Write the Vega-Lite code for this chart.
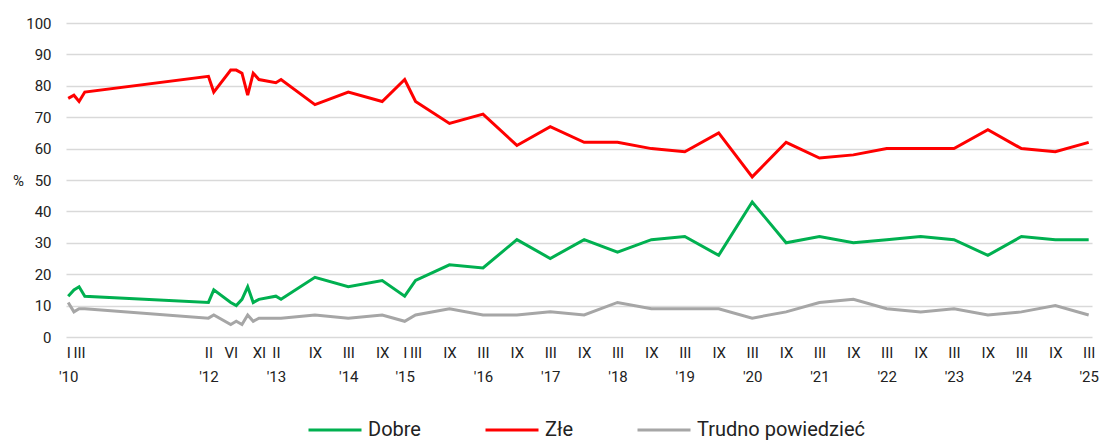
{
  "$schema": "https://vega.github.io/schema/vega-lite/v6.json",
  "width": 1026,
  "height": 314,
  "autosize": {"type": "none"},
  "padding": {"left": 66, "top": 23, "right": 7, "bottom": 103},
  "config": {
    "view": {"stroke": null},
    "font": "Roboto",
    "axis": {"labelFont": "Roboto", "labelColor": "#222222", "titleColor": "#222222"},
    "legend": {"padding": 0}
  },
  "data": {
    "values": [
      {"data": "2010-01-01", "seria": "Złe", "proc": 76}, {"data": "2010-01-01", "seria": "Dobre", "proc": 13}, {"data": "2010-01-01", "seria": "Trudno powiedzieć", "proc": 11},
      {"data": "2010-02-01", "seria": "Złe", "proc": 77}, {"data": "2010-02-01", "seria": "Dobre", "proc": 15}, {"data": "2010-02-01", "seria": "Trudno powiedzieć", "proc": 8},
      {"data": "2010-03-01", "seria": "Złe", "proc": 75}, {"data": "2010-03-01", "seria": "Dobre", "proc": 16}, {"data": "2010-03-01", "seria": "Trudno powiedzieć", "proc": 9},
      {"data": "2010-04-01", "seria": "Złe", "proc": 78}, {"data": "2010-04-01", "seria": "Dobre", "proc": 13}, {"data": "2010-04-01", "seria": "Trudno powiedzieć", "proc": 9},
      {"data": "2012-02-01", "seria": "Złe", "proc": 83}, {"data": "2012-02-01", "seria": "Dobre", "proc": 11}, {"data": "2012-02-01", "seria": "Trudno powiedzieć", "proc": 6},
      {"data": "2012-03-01", "seria": "Złe", "proc": 78}, {"data": "2012-03-01", "seria": "Dobre", "proc": 15}, {"data": "2012-03-01", "seria": "Trudno powiedzieć", "proc": 7},
      {"data": "2012-06-01", "seria": "Złe", "proc": 85}, {"data": "2012-06-01", "seria": "Dobre", "proc": 11}, {"data": "2012-06-01", "seria": "Trudno powiedzieć", "proc": 4},
      {"data": "2012-07-01", "seria": "Złe", "proc": 85}, {"data": "2012-07-01", "seria": "Dobre", "proc": 10}, {"data": "2012-07-01", "seria": "Trudno powiedzieć", "proc": 5},
      {"data": "2012-08-01", "seria": "Złe", "proc": 84}, {"data": "2012-08-01", "seria": "Dobre", "proc": 12}, {"data": "2012-08-01", "seria": "Trudno powiedzieć", "proc": 4},
      {"data": "2012-09-01", "seria": "Złe", "proc": 77}, {"data": "2012-09-01", "seria": "Dobre", "proc": 16}, {"data": "2012-09-01", "seria": "Trudno powiedzieć", "proc": 7},
      {"data": "2012-10-01", "seria": "Złe", "proc": 84}, {"data": "2012-10-01", "seria": "Dobre", "proc": 11}, {"data": "2012-10-01", "seria": "Trudno powiedzieć", "proc": 5},
      {"data": "2012-11-01", "seria": "Złe", "proc": 82}, {"data": "2012-11-01", "seria": "Dobre", "proc": 12}, {"data": "2012-11-01", "seria": "Trudno powiedzieć", "proc": 6},
      {"data": "2013-02-01", "seria": "Złe", "proc": 81}, {"data": "2013-02-01", "seria": "Dobre", "proc": 13}, {"data": "2013-02-01", "seria": "Trudno powiedzieć", "proc": 6},
      {"data": "2013-03-01", "seria": "Złe", "proc": 82}, {"data": "2013-03-01", "seria": "Dobre", "proc": 12}, {"data": "2013-03-01", "seria": "Trudno powiedzieć", "proc": 6},
      {"data": "2013-09-01", "seria": "Złe", "proc": 74}, {"data": "2013-09-01", "seria": "Dobre", "proc": 19}, {"data": "2013-09-01", "seria": "Trudno powiedzieć", "proc": 7},
      {"data": "2014-03-01", "seria": "Złe", "proc": 78}, {"data": "2014-03-01", "seria": "Dobre", "proc": 16}, {"data": "2014-03-01", "seria": "Trudno powiedzieć", "proc": 6},
      {"data": "2014-09-01", "seria": "Złe", "proc": 75}, {"data": "2014-09-01", "seria": "Dobre", "proc": 18}, {"data": "2014-09-01", "seria": "Trudno powiedzieć", "proc": 7},
      {"data": "2015-01-01", "seria": "Złe", "proc": 82}, {"data": "2015-01-01", "seria": "Dobre", "proc": 13}, {"data": "2015-01-01", "seria": "Trudno powiedzieć", "proc": 5},
      {"data": "2015-03-01", "seria": "Złe", "proc": 75}, {"data": "2015-03-01", "seria": "Dobre", "proc": 18}, {"data": "2015-03-01", "seria": "Trudno powiedzieć", "proc": 7},
      {"data": "2015-09-01", "seria": "Złe", "proc": 68}, {"data": "2015-09-01", "seria": "Dobre", "proc": 23}, {"data": "2015-09-01", "seria": "Trudno powiedzieć", "proc": 9},
      {"data": "2016-03-01", "seria": "Złe", "proc": 71}, {"data": "2016-03-01", "seria": "Dobre", "proc": 22}, {"data": "2016-03-01", "seria": "Trudno powiedzieć", "proc": 7},
      {"data": "2016-09-01", "seria": "Złe", "proc": 61}, {"data": "2016-09-01", "seria": "Dobre", "proc": 31}, {"data": "2016-09-01", "seria": "Trudno powiedzieć", "proc": 7},
      {"data": "2017-03-01", "seria": "Złe", "proc": 67}, {"data": "2017-03-01", "seria": "Dobre", "proc": 25}, {"data": "2017-03-01", "seria": "Trudno powiedzieć", "proc": 8},
      {"data": "2017-09-01", "seria": "Złe", "proc": 62}, {"data": "2017-09-01", "seria": "Dobre", "proc": 31}, {"data": "2017-09-01", "seria": "Trudno powiedzieć", "proc": 7},
      {"data": "2018-03-01", "seria": "Złe", "proc": 62}, {"data": "2018-03-01", "seria": "Dobre", "proc": 27}, {"data": "2018-03-01", "seria": "Trudno powiedzieć", "proc": 11},
      {"data": "2018-09-01", "seria": "Złe", "proc": 60}, {"data": "2018-09-01", "seria": "Dobre", "proc": 31}, {"data": "2018-09-01", "seria": "Trudno powiedzieć", "proc": 9},
      {"data": "2019-03-01", "seria": "Złe", "proc": 59}, {"data": "2019-03-01", "seria": "Dobre", "proc": 32}, {"data": "2019-03-01", "seria": "Trudno powiedzieć", "proc": 9},
      {"data": "2019-09-01", "seria": "Złe", "proc": 65}, {"data": "2019-09-01", "seria": "Dobre", "proc": 26}, {"data": "2019-09-01", "seria": "Trudno powiedzieć", "proc": 9},
      {"data": "2020-03-01", "seria": "Złe", "proc": 51}, {"data": "2020-03-01", "seria": "Dobre", "proc": 43}, {"data": "2020-03-01", "seria": "Trudno powiedzieć", "proc": 6},
      {"data": "2020-09-01", "seria": "Złe", "proc": 62}, {"data": "2020-09-01", "seria": "Dobre", "proc": 30}, {"data": "2020-09-01", "seria": "Trudno powiedzieć", "proc": 8},
      {"data": "2021-03-01", "seria": "Złe", "proc": 57}, {"data": "2021-03-01", "seria": "Dobre", "proc": 32}, {"data": "2021-03-01", "seria": "Trudno powiedzieć", "proc": 11},
      {"data": "2021-09-01", "seria": "Złe", "proc": 58}, {"data": "2021-09-01", "seria": "Dobre", "proc": 30}, {"data": "2021-09-01", "seria": "Trudno powiedzieć", "proc": 12},
      {"data": "2022-03-01", "seria": "Złe", "proc": 60}, {"data": "2022-03-01", "seria": "Dobre", "proc": 31}, {"data": "2022-03-01", "seria": "Trudno powiedzieć", "proc": 9},
      {"data": "2022-09-01", "seria": "Złe", "proc": 60}, {"data": "2022-09-01", "seria": "Dobre", "proc": 32}, {"data": "2022-09-01", "seria": "Trudno powiedzieć", "proc": 8},
      {"data": "2023-03-01", "seria": "Złe", "proc": 60}, {"data": "2023-03-01", "seria": "Dobre", "proc": 31}, {"data": "2023-03-01", "seria": "Trudno powiedzieć", "proc": 9},
      {"data": "2023-09-01", "seria": "Złe", "proc": 66}, {"data": "2023-09-01", "seria": "Dobre", "proc": 26}, {"data": "2023-09-01", "seria": "Trudno powiedzieć", "proc": 7},
      {"data": "2024-03-01", "seria": "Złe", "proc": 60}, {"data": "2024-03-01", "seria": "Dobre", "proc": 32}, {"data": "2024-03-01", "seria": "Trudno powiedzieć", "proc": 8},
      {"data": "2024-09-01", "seria": "Złe", "proc": 59}, {"data": "2024-09-01", "seria": "Dobre", "proc": 31}, {"data": "2024-09-01", "seria": "Trudno powiedzieć", "proc": 10},
      {"data": "2025-03-01", "seria": "Złe", "proc": 62}, {"data": "2025-03-01", "seria": "Dobre", "proc": 31}, {"data": "2025-03-01", "seria": "Trudno powiedzieć", "proc": 7}
    ]
  },
  "mark": {"type": "line", "strokeWidth": 3, "strokeJoin": "miter", "strokeCap": "butt"},
  "encoding": {
    "x": {
      "field": "data",
      "type": "temporal",
      "scale": {
        "type": "utc",
        "domain": [
          {"year": 2009, "month": 12, "date": 20, "utc": true},
          {"year": 2025, "month": 3, "date": 19, "utc": true}
        ]
      },
      "axis": {
        "title": null,
        "grid": false,
        "domain": false,
        "ticks": false,
        "labelOverlap": false,
        "labelBound": false,
        "labelFlush": false,
        "labelFontSize": 15,
        "labelPadding": 8,
        "labelLineHeight": 24,
        "labelAlign": "center",
        "values": [
          {"year": 2010, "month": 1, "date": 1, "utc": true},
          {"year": 2010, "month": 3, "date": 1, "utc": true},
          {"year": 2012, "month": 2, "date": 1, "utc": true},
          {"year": 2012, "month": 6, "date": 1, "utc": true},
          {"year": 2012, "month": 11, "date": 1, "utc": true},
          {"year": 2013, "month": 2, "date": 1, "utc": true},
          {"year": 2013, "month": 9, "date": 1, "utc": true},
          {"year": 2014, "month": 3, "date": 1, "utc": true},
          {"year": 2014, "month": 9, "date": 1, "utc": true},
          {"year": 2015, "month": 1, "date": 1, "utc": true},
          {"year": 2015, "month": 3, "date": 1, "utc": true},
          {"year": 2015, "month": 9, "date": 1, "utc": true},
          {"year": 2016, "month": 3, "date": 1, "utc": true},
          {"year": 2016, "month": 9, "date": 1, "utc": true},
          {"year": 2017, "month": 3, "date": 1, "utc": true},
          {"year": 2017, "month": 9, "date": 1, "utc": true},
          {"year": 2018, "month": 3, "date": 1, "utc": true},
          {"year": 2018, "month": 9, "date": 1, "utc": true},
          {"year": 2019, "month": 3, "date": 1, "utc": true},
          {"year": 2019, "month": 9, "date": 1, "utc": true},
          {"year": 2020, "month": 3, "date": 1, "utc": true},
          {"year": 2020, "month": 9, "date": 1, "utc": true},
          {"year": 2021, "month": 3, "date": 1, "utc": true},
          {"year": 2021, "month": 9, "date": 1, "utc": true},
          {"year": 2022, "month": 3, "date": 1, "utc": true},
          {"year": 2022, "month": 9, "date": 1, "utc": true},
          {"year": 2023, "month": 3, "date": 1, "utc": true},
          {"year": 2023, "month": 9, "date": 1, "utc": true},
          {"year": 2024, "month": 3, "date": 1, "utc": true},
          {"year": 2024, "month": 9, "date": 1, "utc": true},
          {"year": 2025, "month": 3, "date": 1, "utc": true}
        ],
        "labelExpr": "[['I','II','III','IV','V','VI','VII','VIII','IX','X','XI','XII'][utcmonth(datum.value)], ((utcyear(datum.value) == 2010 && utcmonth(datum.value) == 0) || (utcyear(datum.value) == 2012 && utcmonth(datum.value) == 1) || (utcyear(datum.value) == 2013 && utcmonth(datum.value) == 1) || (utcyear(datum.value) == 2014 && utcmonth(datum.value) == 2) || (utcyear(datum.value) == 2015 && utcmonth(datum.value) == 0) || (utcyear(datum.value) >= 2016 && utcmonth(datum.value) == 2)) ? \"'\" + pad(utcyear(datum.value) % 100, 2, '0', 'left') : '']"
      }
    },
    "y": {
      "field": "proc",
      "type": "quantitative",
      "scale": {"domain": [0, 100], "nice": false},
      "axis": {
        "title": "%",
        "titleAngle": 0,
        "titleFontSize": 15,
        "titleFontWeight": "normal",
        "titleX": -48,
        "titleY": 157,
        "titleAlign": "center",
        "titleBaseline": "middle",
        "values": [0, 10, 20, 30, 40, 50, 60, 70, 80, 90, 100],
        "grid": true,
        "gridColor": "#d9d9d9",
        "gridWidth": 1.5,
        "domain": false,
        "ticks": false,
        "labelFontSize": 15,
        "labelPadding": 15
      }
    },
    "color": {
      "field": "seria",
      "type": "nominal",
      "scale": {
        "domain": ["Dobre", "Złe", "Trudno powiedzieć"],
        "range": ["#00b050", "#ff0000", "#a6a6a6"]
      },
      "legend": {
        "title": null,
        "orient": "none",
        "direction": "horizontal",
        "legendX": 241,
        "legendY": 379,
        "symbolType": "stroke",
        "symbolSize": 2809,
        "symbolStrokeWidth": 3,
        "labelFontSize": 20,
        "labelFont": "Roboto",
        "labelColor": "#222222",
        "labelOffset": 5,
        "labelLimit": 400,
        "columnPadding": 58
      }
    }
  }
}
